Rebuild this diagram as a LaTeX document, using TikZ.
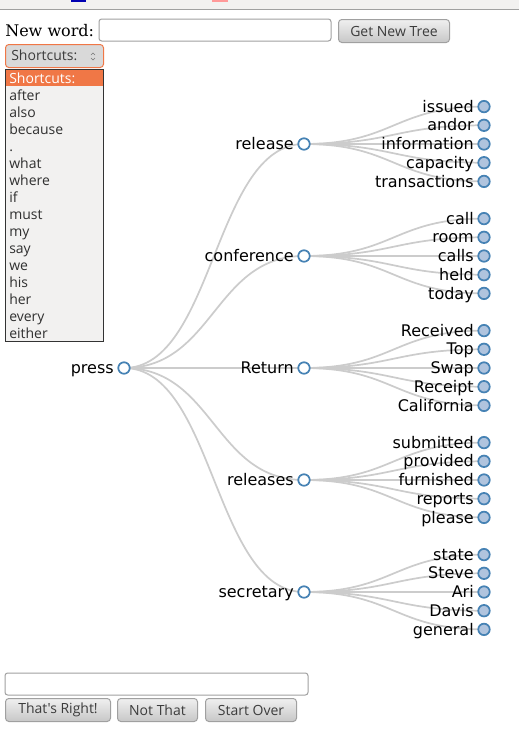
\documentclass[tikz,border=0pt]{standalone}
\usepackage{fontspec}
\setmainfont{DejaVu Serif}
\newfontfamily\treefont{DejaVu Sans}
\newfontfamily\uifont{Open Sans}
\usetikzlibrary{positioning,calc,backgrounds}

\definecolor{steel}{HTML}{4682B4}
\definecolor{lightsteel}{HTML}{B0C4DE}
\definecolor{linkgray}{HTML}{CCCCCC}
\definecolor{panel}{HTML}{F2F1F0}
\definecolor{ubuorange}{HTML}{F07746}
\definecolor{btnedge}{HTML}{A0A0A0}
\definecolor{btntext}{HTML}{3C3C3C}

\tikzset{
  inner/.style={circle, draw=steel, fill=white, line width=1.3pt, minimum size=8.6pt, inner sep=0pt},
  leaf/.style={inner, fill=lightsteel},
  lbl/.style={font=\treefont\fontsize{12}{14}\selectfont, inner sep=0pt, anchor=base east},
  link/.style={draw=linkgray, line width=1.3pt},
  field/.style={draw=btnedge, fill=white, rounded corners=2pt, line width=0.75pt},
  button/.style={draw=btnedge, rounded corners=2.5pt, line width=0.75pt, top color=white!94!black, bottom color=white!78!black,
    font=\uifont\fontsize{10.5}{12}\selectfont, text=btntext},
  item/.style={font=\uifont\fontsize{10.5}{12}\selectfont, text=btntext!80!black, anchor=base west, inner sep=0pt}
}

\begin{document}
\begin{tikzpicture}[x=0.75pt, y=-0.75pt]
  \useasboundingbox (0,0) rectangle (519,739);

  % browser strip at the top
  \fill[panel] (0,0) rectangle (519,9);
  \fill[blue!70!black] (71,0) rectangle (86,2);
  \fill[red!40] (212,0) rectangle (228,1.5);
  \draw[btnedge, line width=0.75pt] (0,9.5) -- (519,9.5);

  % form
  \node[font=\fontsize{12}{14}\selectfont, anchor=base west, inner sep=0pt] (newword) at (5,36) {New word:};
  \draw[field] (99,19) rectangle (331,41);
  \node[button, minimum width=83.25pt, minimum height=17.25pt, anchor=north west] (gettree) at (338,19) {Get New Tree};
  \node[draw=ubuorange, line width=0.75pt, rounded corners=2.5pt, fill=white!85!black, minimum width=73.5pt, minimum height=17.25pt,
    anchor=north west] (select) at (5,44) {};
  \node[item, text=btntext] (selecttext) at (11,60) {Shortcuts:};
  \draw[btntext!70, line width=0.5pt] (91,55) -- (93,53) -- (95,55) (91,58) -- (93,60) -- (95,58);

  % dropdown list
  \draw[fill=panel, draw=black!80, line width=0.75pt] (5,69) rectangle (103,341);
  \fill[ubuorange] (5.5,69.5) rectangle (102.5,86);
  \node[item, text=white] (sc) at (9,83) {Shortcuts:};
  \foreach \w [count=\i] in {after,also,because,.,what,where,if,must,my,say,we,his,her,every,either}
    \node[item] (sc-\i) at (9,83+17*\i) {\w};

  % tree
  \node[inner] (press) at (124,368) {};
  \node[lbl] (press-t) at (114,373.6) {press};
  \foreach \grp/\y/\leaves in {release/144/{issued,andor,information,capacity,transactions},
      conference/256/{call,room,calls,held,today},
      Return/368/{Received,Top,Swap,Receipt,California},
      releases/480/{submitted,provided,furnished,reports,please},
      secretary/592/{state,Steve,Ari,Davis,general}} {
    \node[inner] (\grp) at (304,\y) {};
    \node[lbl] (\grp-t) at (294,\y+5.6) {\grp};
    \begin{scope}[on background layer]
      \draw[link] (press.center) .. controls +(90,0) and +(-90,0) .. (\grp.center);
    \end{scope}
    \foreach \w [count=\k] in \leaves {
      \node[leaf] (\grp-\k) at (484,\y+18.7*\k-56.1) {};
      \node[lbl] (\grp-\k-t) at (474,\y+18.7*\k-50.5) {\w};
      \begin{scope}[on background layer]
        \draw[link] (\grp.center) .. controls +(90,0) and +(-90,0) .. (\grp-\k.center);
      \end{scope}
    }
  }

  % answer row
  \draw[field] (5,673) rectangle (308,695);
  \node[button, minimum width=78.75pt, minimum height=17.25pt, anchor=north west] (right) at (5,698) {That's Right!};
  \node[button, minimum width=60pt, minimum height=17.25pt, anchor=north west] (notthat) at (117,698) {Not That};
  \node[button, minimum width=68.25pt, minimum height=17.25pt, anchor=north west] (startover) at (205,698) {Start Over};
\end{tikzpicture}
\end{document}
